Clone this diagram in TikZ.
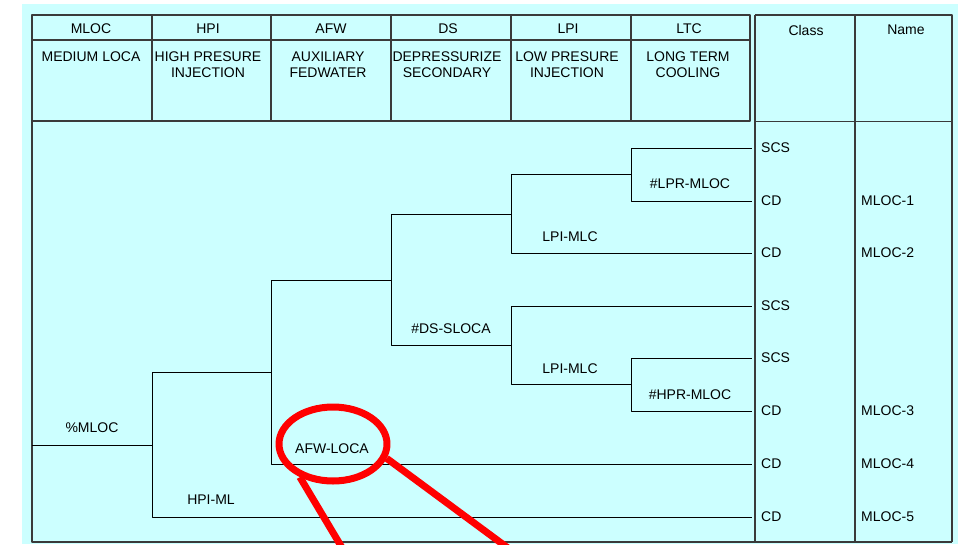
\documentclass[tikz,border=0pt]{standalone}
\usepackage{fontspec}
\setmainfont{Liberation Sans}
\usetikzlibrary{shapes.geometric}
\definecolor{sheet}{HTML}{CCFFFF}
\definecolor{rule}{HTML}{3A3A3A}
\tikzset{
  txt/.style={font=\fontsize{14}{16}\selectfont, inner sep=0pt},
  hdr/.style={txt, align=center, anchor=north},
  outc/.style={txt, anchor=west, inner xsep=9pt},
  branch/.style={line width=0.9pt, black},
  frame/.style={line width=1.6pt, rule},
  annot/.style={line width=7pt, red},
}
\begin{document}
\begin{tikzpicture}[x=1pt, y=-1pt, line join=round]
      \useasboundingbox (0,0) rectangle (958,544);
      \fill[sheet] (22,4) rectangle (958,544);

      % table
      \draw[frame] (32,15) rectangle (750,121);
      \draw[frame] (32,40) -- (750,40);
      \draw[frame] (152,15) -- (152,121);
      \draw[frame] (271,15) -- (271,121);
      \draw[frame] (391,15) -- (391,121);
      \draw[frame] (511,15) -- (511,121);
      \draw[frame] (631,15) -- (631,121);
      \draw[frame] (32,121) -- (32,542) -- (952,542);
      \draw[frame] (755,15) -- (952,15) -- (952,542);
      \draw[frame] (755,15) -- (755,542);
      \draw[frame] (855,15) -- (855,542);
      \draw[frame, line width=1pt] (755,121) -- (952,121);

      % headings
      \node[txt] (hMLOC) at (91,29) {MLOC};
      \node[txt] (hHPI) at (208,29) {HPI};
      \node[txt] (hAFW) at (331,29) {AFW};
      \node[txt] (hDS) at (448,29) {DS};
      \node[txt] (hLPI) at (568,29) {LPI};
      \node[txt] (hLTC) at (689,29) {LTC};
      \node[txt] (hClass) at (806,30) {Class};
      \node[txt] (hName) at (906,30) {Name};

      \node[hdr] (dMLOC) at (91,52) {MEDIUM LOCA};
      \node[hdr] (dHPI) at (208,52) {HIGH PRESURE\\INJECTION};
      \node[hdr] (dAFW) at (328,52) {AUXILIARY\\FEDWATER};
      \node[hdr] (dDS) at (447,52) {DEPRESSURIZE\\SECONDARY};
      \node[hdr] (dLPI) at (567,52) {LOW PRESURE\\INJECTION};
      \node[hdr] (dLTC) at (688,52) {LONG TERM\\COOLING};

      % branch points
      \coordinate (init) at (32,445);
      \coordinate (hpi) at (152,445);
      \coordinate (afw) at (271,372);
      \coordinate (ds) at (391,280);
      \coordinate (lpiA) at (511,214);
      \coordinate (ltcA) at (631,174);
      \coordinate (lpiB) at (511,345);
      \coordinate (ltcB) at (631,384);

      % end states
      \node[outc] (o1) at (752,148) {SCS};
      \node[outc] (o2) at (752,201) {CD};
      \node[outc] (o3) at (752,253) {CD};
      \node[outc] (o4) at (752,306) {SCS};
      \node[outc] (o5) at (752,358) {SCS};
      \node[outc] (o6) at (752,411) {CD};
      \node[outc] (o7) at (752,464) {CD};
      \node[outc] (o8) at (752,517) {CD};

      \node[txt, anchor=west] (n1) at (861,201) {MLOC-1};
      \node[txt, anchor=west] (n2) at (861,253) {MLOC-2};
      \node[txt, anchor=west] (n3) at (861,411) {MLOC-3};
      \node[txt, anchor=west] (n4) at (861,464) {MLOC-4};
      \node[txt, anchor=west] (n5) at (861,517) {MLOC-5};

      \draw[branch] (init) -- (hpi);
      \draw[branch] (hpi) |- (afw);
      \draw[branch] (hpi) |- (o8.west);
      \draw[branch] (afw) |- (ds);
      \draw[branch] (afw) |- (o7.west);
      \draw[branch] (ds) |- (lpiA);
      \draw[branch] (ds) |- (lpiB);
      \draw[branch] (lpiA) |- (ltcA);
      \draw[branch] (lpiA) |- (o3.west);
      \draw[branch] (ltcA) |- (o1.west);
      \draw[branch] (ltcA) |- (o2.west);
      \draw[branch] (lpiB) |- (o4.west);
      \draw[branch] (lpiB) |- (ltcB);
      \draw[branch] (ltcB) |- (o5.west);
      \draw[branch] (ltcB) |- (o6.west);

      % branch labels
      \node[txt] (lMLOC) at (92,428) {\%MLOC};
      \node[txt] (lHPI) at (211,500) {HPI-ML};
      \node[txt] (lAFW) at (332,449) {AFW-LOCA};
      \node[txt] (lDS) at (451,329) {\#DS-SLOCA};
      \node[txt] (lLPIa) at (570,237) {LPI-MLC};
      \node[txt] (lLPIb) at (570,369) {LPI-MLC};
      \node[txt] (lLTCa) at (690,184) {\#LPR-MLOC};
      \node[txt] (lLTCb) at (690,395) {\#HPR-MLOC};

      % red mark
      \node[ellipse, draw=red, line width=7pt, minimum width=108pt,
            minimum height=74pt, inner sep=0pt] (ring) at (333,444) {};
      \coordinate (tailA) at (344,551);
      \coordinate (tailB) at (512,551);
      \draw[annot] (ring.225) -- (tailA);
      \draw[annot] (ring.-15) -- (tailB);
    \end{tikzpicture}
\end{document}
